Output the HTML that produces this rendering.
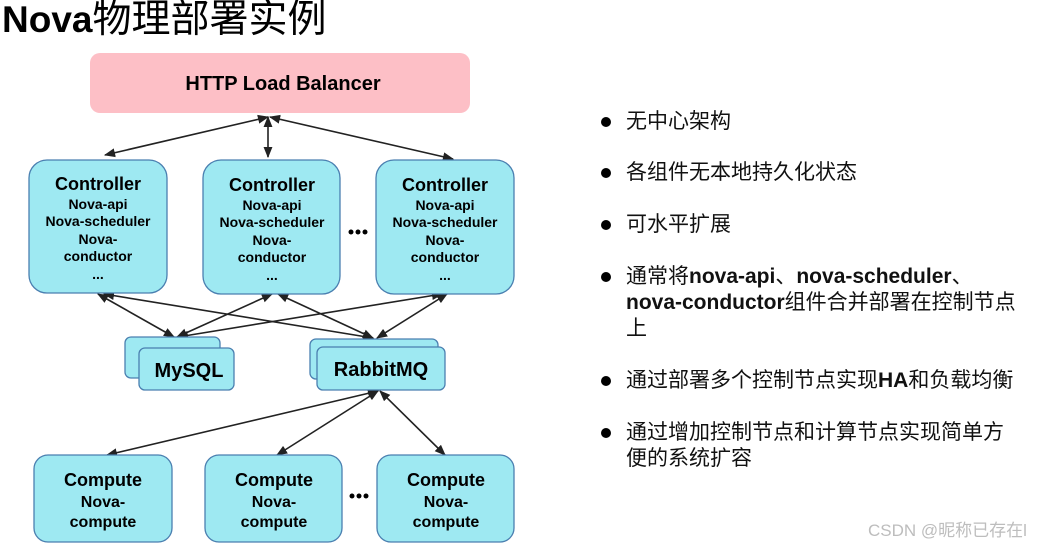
<!DOCTYPE html>
<html><head><meta charset="utf-8"><style>
html,body{margin:0;padding:0;background:#fff;}
body{width:1048px;height:545px;overflow:hidden;position:relative;font-family:"Liberation Sans","Noto Sans CJK SC",sans-serif;}
.t{position:absolute;left:626px;font-size:21px;line-height:26px;white-space:nowrap;color:#111;}
.d{position:absolute;left:601px;width:10px;height:10px;border-radius:50%;background:#000;}
b{font-weight:bold;}
</style></head><body>
<svg width="1048" height="545" style="position:absolute;left:0;top:0" font-family="Liberation Sans, Noto Sans CJK SC, sans-serif">
<defs>
<marker id="a" viewBox="0 0 10 10" refX="9" refY="5" markerWidth="7" markerHeight="7" orient="auto-start-reverse"><path d="M0,1 L10,5 L0,9 z" fill="#222"/></marker>
</defs>
<text x="2" y="32" font-size="37" fill="#000"><tspan font-weight="bold">Nova</tspan><tspan font-family="Noto Sans CJK SC, sans-serif" font-size="39">物理部署实例</tspan></text>
<rect x="90" y="53" width="380" height="60" rx="10" fill="#fdbfc6"/>
<text x="283" y="90" font-size="20" font-weight="bold" text-anchor="middle">HTTP Load Balancer</text>
<g stroke="#222" stroke-width="1.6" fill="none" marker-start="url(#a)" marker-end="url(#a)">
<line x1="268" y1="117" x2="105" y2="155"/>
<line x1="268" y1="117" x2="268" y2="157"/>
<line x1="270" y1="117" x2="453" y2="159"/>
<line x1="98" y1="294" x2="174" y2="337"/>
<line x1="104" y1="294" x2="373" y2="338"/>
<line x1="272" y1="294" x2="177" y2="337"/>
<line x1="278" y1="294" x2="373" y2="338"/>
<line x1="442" y1="294" x2="178" y2="337"/>
<line x1="447" y1="294" x2="377" y2="338"/>
<line x1="378" y1="391" x2="107" y2="455"/>
<line x1="378" y1="391" x2="277" y2="455"/>
<line x1="380" y1="391" x2="445" y2="455"/>
</g>
<g fill="#9ee9f2" stroke="#4a7fb0" stroke-width="1.3">
<rect x="29" y="160" width="138" height="133" rx="18"/>
<rect x="203" y="160" width="137" height="134" rx="18"/>
<rect x="376" y="160" width="138" height="134" rx="18"/>
<rect x="125" y="337" width="95" height="41" rx="6"/>
<rect x="139" y="348" width="95" height="42" rx="6"/>
<rect x="310" y="339" width="128" height="40" rx="6"/>
<rect x="317" y="347" width="128" height="43" rx="6"/>
<rect x="34" y="455" width="138" height="87" rx="14"/>
<rect x="205" y="455" width="137" height="87" rx="14"/>
<rect x="377" y="455" width="137" height="87" rx="14"/>
</g>
<g font-weight="bold" text-anchor="middle" fill="#000">
<g font-size="18"><text x="98" y="190">Controller</text><text x="272" y="191">Controller</text><text x="445" y="191">Controller</text></g>
<g font-size="14">
<text x="98" y="209">Nova-api</text><text x="98" y="226">Nova-scheduler</text><text x="98" y="244">Nova-</text><text x="98" y="261">conductor</text><text x="98" y="279">...</text>
<text x="272" y="210">Nova-api</text><text x="272" y="227">Nova-scheduler</text><text x="272" y="245">Nova-</text><text x="272" y="262">conductor</text><text x="272" y="280">...</text>
<text x="445" y="210">Nova-api</text><text x="445" y="227">Nova-scheduler</text><text x="445" y="245">Nova-</text><text x="445" y="262">conductor</text><text x="445" y="280">...</text>
</g>
<text x="189" y="377" font-size="20">MySQL</text>
<text x="381" y="376" font-size="20">RabbitMQ</text>
<g font-size="18"><text x="103" y="486">Compute</text><text x="274" y="486">Compute</text><text x="446" y="486">Compute</text></g>
<g font-size="16">
<text x="103" y="507">Nova-</text><text x="103" y="527">compute</text>
<text x="274" y="507">Nova-</text><text x="274" y="527">compute</text>
<text x="446" y="507">Nova-</text><text x="446" y="527">compute</text>
</g>
</g>
<g fill="#000"><circle cx="351" cy="232" r="2.5"/><circle cx="358" cy="232" r="2.5"/><circle cx="365" cy="232" r="2.5"/>
<circle cx="352" cy="496" r="2.5"/><circle cx="359" cy="496" r="2.5"/><circle cx="366" cy="496" r="2.5"/></g>
</svg>
<div class="d" style="top:117px"></div><div class="t" style="top:109px">无中心架构</div>
<div class="d" style="top:168px"></div><div class="t" style="top:160px">各组件无本地持久化状态</div>
<div class="d" style="top:220px"></div><div class="t" style="top:212px">可水平扩展</div>
<div class="d" style="top:272px"></div><div class="t" style="top:264px">通常将<b>nova-api</b>、<b>nova-scheduler</b>、<br><b>nova-conductor</b>组件合并部署在控制节点<br>上</div>
<div class="d" style="top:376px"></div><div class="t" style="top:368px">通过部署多个控制节点实现<b>HA</b>和负载均衡</div>
<div class="d" style="top:428px"></div><div class="t" style="top:420px">通过增加控制节点和计算节点实现简单方<br>便的系统扩容</div>
<div style="position:absolute;left:868px;top:516px;font-size:17px;color:#bdbdbd;white-space:nowrap">CSDN @昵称已存在l</div>
</body></html>
